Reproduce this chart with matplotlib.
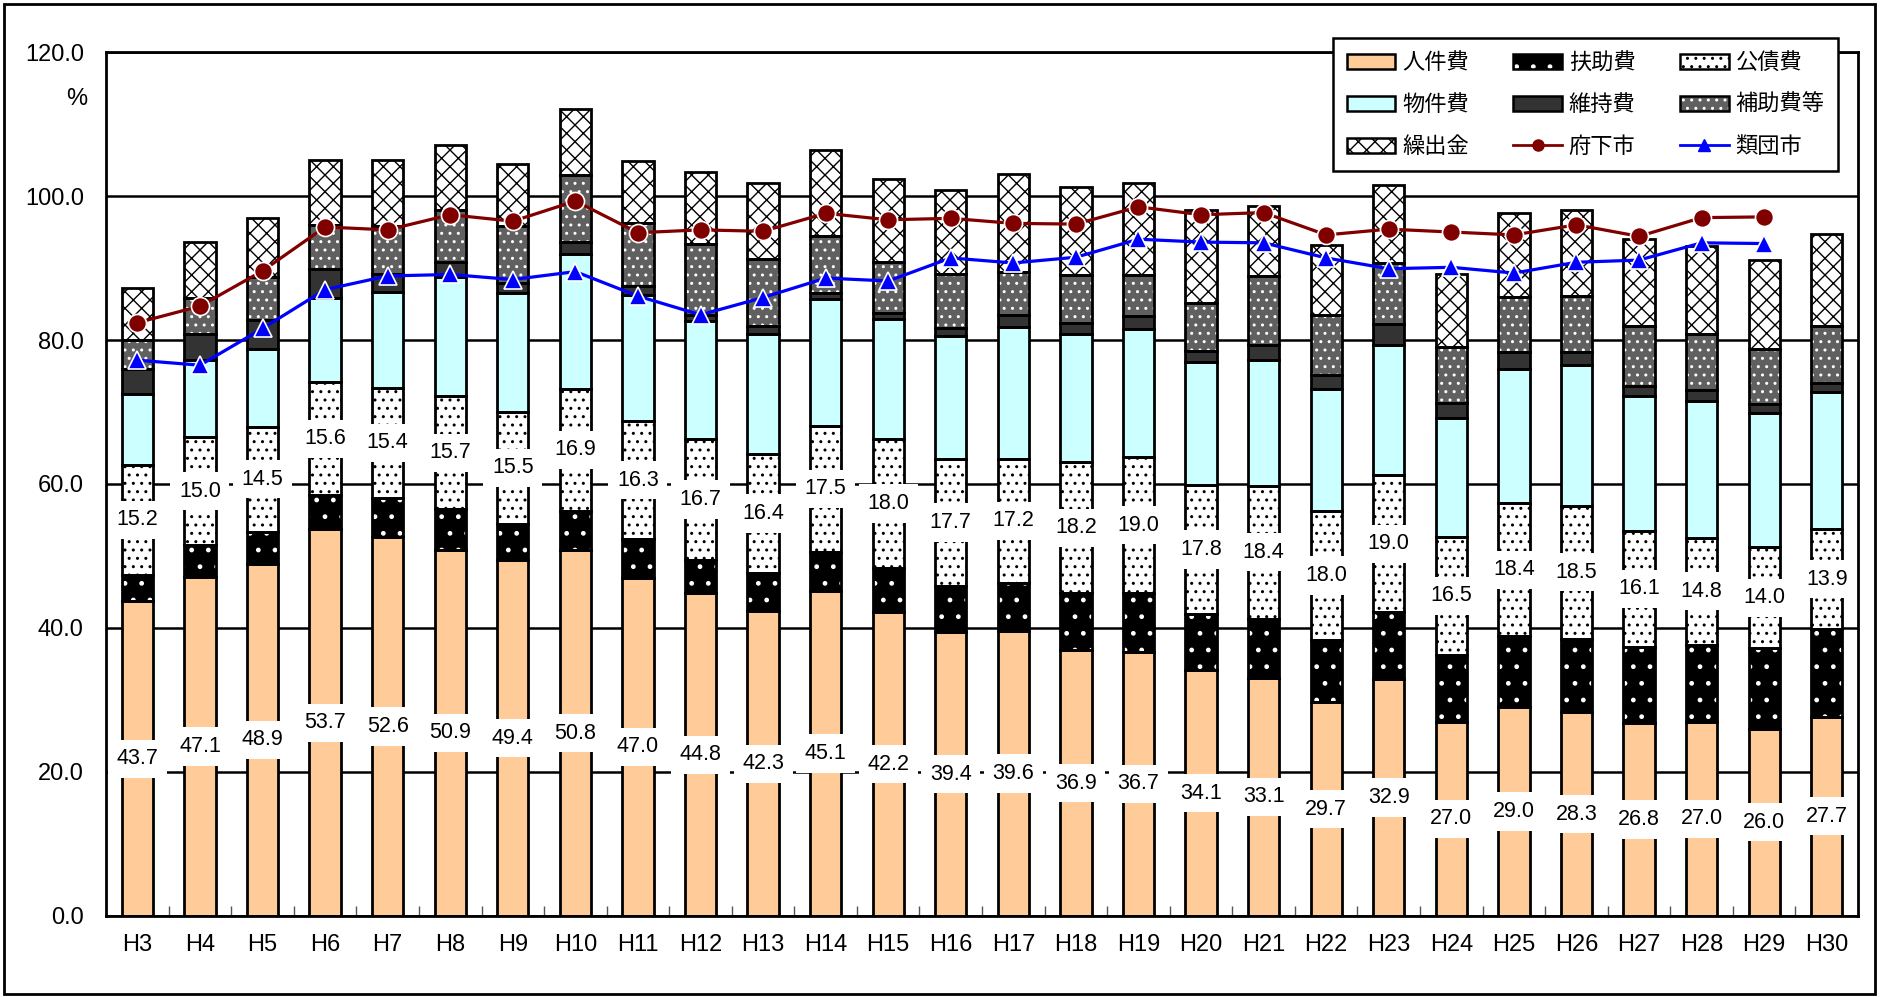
import matplotlib
matplotlib.use('Agg')
import matplotlib.pyplot as plt
import numpy as np
from matplotlib.patches import Patch, Rectangle
from matplotlib.lines import Line2D

plt.rcParams['font.family'] = ['Liberation Sans', 'Noto Sans CJK JP']
plt.rcParams['hatch.linewidth'] = 1.0

years = ['H3', 'H4', 'H5', 'H6', 'H7', 'H8', 'H9', 'H10', 'H11', 'H12', 'H13', 'H14',
         'H15', 'H16', 'H17', 'H18', 'H19', 'H20', 'H21', 'H22', 'H23', 'H24', 'H25',
         'H26', 'H27', 'H28', 'H29', 'H30']

# 構成比 (%)
jinken = [43.7, 47.1, 48.9, 53.7, 52.6, 50.9, 49.4, 50.8, 47.0, 44.8, 42.3, 45.1, 42.2, 39.4,
          39.6, 36.9, 36.7, 34.1, 33.1, 29.7, 32.9, 27.0, 29.0, 28.3, 26.8, 27.0, 26.0, 27.7]
fujo = [3.7, 4.4, 4.5, 4.8, 5.4, 5.6, 5.1, 5.5, 5.4, 4.7, 5.4, 5.5, 6.1, 6.4,
        6.7, 7.9, 8.1, 7.9, 8.2, 8.6, 9.3, 9.2, 9.9, 10.2, 10.6, 10.7, 11.2, 12.1]
kousai = [15.2, 15.0, 14.5, 15.6, 15.4, 15.7, 15.5, 16.9, 16.3, 16.7, 16.4, 17.5, 18.0, 17.7,
          17.2, 18.2, 19.0, 17.8, 18.4, 18.0, 19.0, 16.5, 18.4, 18.5, 16.1, 14.8, 14.0, 13.9]
bukken = [9.9, 10.7, 10.9, 11.7, 13.3, 16.6, 16.5, 18.7, 17.6, 16.5, 16.8, 17.6, 16.6, 17.0,
          18.3, 17.9, 17.7, 17.1, 17.5, 16.9, 18.1, 16.5, 18.7, 19.5, 18.7, 19.0, 18.6, 19.1]
iji = [3.5, 3.7, 4.0, 4.1, 2.5, 2.1, 1.4, 1.7, 1.2, 0.8, 1.1, 0.8, 0.9, 1.2,
       1.7, 1.4, 1.8, 1.6, 2.1, 1.9, 2.9, 2.0, 2.4, 1.9, 1.4, 1.5, 1.3, 1.2]
hojo = [4.0, 4.9, 6.0, 6.1, 6.6, 7.2, 8.0, 9.3, 8.8, 9.8, 9.2, 8.0, 7.1, 7.5,
        6.0, 6.7, 5.7, 6.7, 9.6, 8.4, 8.5, 7.8, 7.6, 7.7, 8.4, 7.9, 7.6, 8.0]
kuridashi = [7.2, 7.8, 8.2, 9.0, 9.2, 9.0, 8.6, 9.2, 8.5, 10.1, 10.6, 11.9, 11.4, 11.6,
             13.5, 12.3, 12.8, 12.8, 9.7, 9.7, 10.8, 10.2, 11.7, 11.9, 12.0, 12.1, 12.4, 12.7]

# 経常収支比率 (H3～H29)
fuka = [82.4, 84.7, 89.6, 95.7, 95.3, 97.4, 96.5, 99.3, 94.9, 95.3, 95.1, 97.6, 96.7, 96.9,
        96.2, 96.1, 98.5, 97.4, 97.7, 94.6, 95.4, 95.0, 94.6, 96.0, 94.4, 97.0, 97.1]
ruidan = [77.2, 76.5, 81.6, 87.0, 88.9, 89.1, 88.4, 89.5, 86.1, 83.5, 85.9, 88.6, 88.2, 91.4,
          90.7, 91.5, 94.0, 93.6, 93.5, 91.4, 89.9, 90.1, 89.3, 90.8, 91.1, 93.5, 93.4]

fig = plt.figure(figsize=(18.81, 9.97), dpi=100)
ax = fig.add_axes([0.0564, 0.0813, 0.9314, 0.8665])

n = len(years)
x = np.arange(n)
w = 0.5

# (値, 塗り, ハッチ, ハッチ色, 凡例名)
series = [
    (jinken, '#FFCC99', None, '#FFCC99', '人件費'),
    (fujo, 'black', '.', 'white', '扶助費'),
    (kousai, 'white', '..', 'black', '公債費'),
    (bukken, '#CCFFFF', None, '#CCFFFF', '物件費'),
    (iji, '#333333', None, '#333333', '維持費'),
    (hojo, '#606060', '..', 'white', '補助費等'),
    (kuridashi, 'white', 'xx', 'black', '繰出金'),
]

bottom = np.zeros(n)
patch_handles = {}
for vals, fc, hatch, hc, name in series:
    vals = np.array(vals)
    ax.bar(x, vals, w, bottom=bottom, color=fc, edgecolor=hc, linewidth=0, hatch=hatch, zorder=2)
    ax.bar(x, vals, w, bottom=bottom, fill=False, edgecolor='black', linewidth=2, zorder=3)
    patch_handles[name] = (Patch(facecolor=fc, edgecolor=hc, hatch=hatch, linewidth=0),
                           Patch(fill=False, edgecolor='black', linewidth=1.8))
    bottom += vals

box = dict(boxstyle='square,pad=0.4', fc='white', ec='none')
for i in range(n):
    ax.text(x[i], jinken[i] / 2, f'{jinken[i]:.1f}', ha='center', va='center',
            fontsize=15.5, bbox=box, zorder=6)
    ax.text(x[i], jinken[i] + fujo[i] + kousai[i] / 2, f'{kousai[i]:.1f}', ha='center',
            va='center', fontsize=15.5, bbox=box, zorder=6)

ax.plot(x[:len(fuka)], fuka, color='#800000', lw=2.3, marker='o', ms=13,
        mfc='#800000', mec='white', mew=1.2, zorder=5)
ax.plot(x[:len(ruidan)], ruidan, color='#0000FF', lw=2.3, marker='^', ms=13,
        mfc='#0000FF', mec='white', mew=1.2, zorder=5)

ax.set_xlim(-0.5, n - 0.5)
ax.set_ylim(0, 120)
ax.set_yticks(np.arange(0, 121, 20))
ax.set_yticklabels([f'{v:.1f}' for v in np.arange(0, 121, 20)])
ax.set_xticks(x)
ax.set_xticklabels(years)
ax.set_xticks(x[:-1] + 0.5, minor=True)
ax.tick_params(axis='y', length=0, pad=16, labelsize=17)
ax.tick_params(axis='x', which='major', length=0, pad=13, labelsize=17)
ax.tick_params(axis='x', which='minor', direction='in', length=7, width=1, color='#555555')
ax.yaxis.grid(True, color='black', lw=1.8)
ax.set_axisbelow(True)
for s in ax.spines.values():
    s.set_linewidth(2)
    s.set_color('black')

fig.text(77 / 1881, 1 - 99 / 997, '%', ha='center', va='center', fontsize=17)

handles = [patch_handles['人件費'], patch_handles['物件費'], patch_handles['繰出金'],
           patch_handles['扶助費'], patch_handles['維持費'],
           Line2D([], [], color='#800000', lw=2, marker='o', ms=8, mfc='#800000', mec='#800000'),
           patch_handles['公債費'], patch_handles['補助費等'],
           Line2D([], [], color='#0000FF', lw=2, marker='^', ms=8, mfc='#0000FF', mec='#0000FF')]
labels = ['人件費', '物件費', '繰出金', '扶助費', '維持費', '府下市', '公債費', '補助費等', '類団市']
leg = fig.legend(handles, labels, ncol=3, loc='upper right', bbox_to_anchor=(0.983, 0.973),
                 prop={'family': 'Noto Sans CJK JP', 'size': 16}, frameon=True, fancybox=False,
                 edgecolor='black', framealpha=1, handlelength=2.2, handleheight=0.7,
                 handletextpad=0.3, columnspacing=2.0, labelspacing=0.85, borderpad=0.6)
leg.get_frame().set_linewidth(1.8)

fig.patches.append(Rectangle((0.002, 0.003), 0.995, 0.993, transform=fig.transFigure,
                             fill=False, edgecolor='black', linewidth=2))

fig.savefig('out.png', dpi=100)
